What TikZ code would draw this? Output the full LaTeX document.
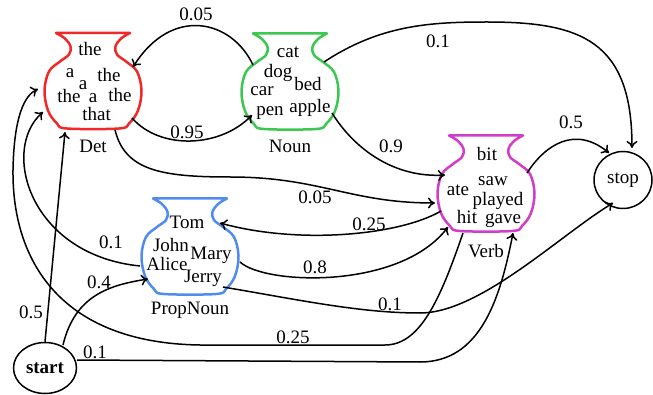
\documentclass[tikz,border=0pt]{standalone}
\usepackage{fontspec}
\setmainfont{Liberation Serif}
\usetikzlibrary{arrows.meta}
\usetikzlibrary{shapes.geometric}
\definecolor{detred}{RGB}{240,40,40}
\definecolor{noungreen}{RGB}{60,200,80}
\definecolor{verbpink}{RGB}{210,60,200}
\definecolor{propblue}{RGB}{80,140,240}
\tikzset{>={To[length=7pt,width=11pt]}}
\tikzstyle{trans}=[->,line width=1.5pt]
\tikzstyle{vaseline}=[line width=2.5pt,line join=round]
\tikzstyle{vasenode}=[minimum width=98pt,minimum height=96pt,inner sep=0pt]
\tikzstyle{word}=[inner sep=0pt,text height=11pt,text depth=0pt]
\tikzstyle{vasename}=[inner sep=0pt,text height=12pt,text depth=0pt]
\tikzstyle{prob}=[inner sep=0pt,text height=12pt,text depth=0pt]
\tikzstyle{state}=[ellipse,draw,line width=1.5pt,inner sep=0pt]
\newcommand\drawvase[2]{
	\draw[vaseline,#2,shift={(#1.center)}] plot[smooth,tension=0.6] coordinates {
		(37,-47.5) (28,-42) (22.5,-34) (24,-26) (33,-19) (44,-9) (48.5,10) (45,30) (36,43) (26,48)
		(-26,48) (-36,43) (-45,30) (-48.5,10) (-44,-9) (-33,-19) (-24,-26) (-22.5,-34) (-28,-42) (-37,-47.5)} -- cycle;
}

\begin{document}
\begin{tikzpicture}[x=1pt,y=-1pt,font=\fontsize{19}{21}\selectfont]
	\useasboundingbox (0,0) rectangle (653,395);
	
	% VASES
	\node[vasenode] (det)  at (93,80.5) {};
	\node[vasenode] (noun) at (290,81) {};
	\node[vasenode] (verb) at (486,183) {};
	\node[vasenode] (prop) at (190,246) {};
	\drawvase{det}{detred}
	\drawvase{noun}{noungreen}
	\drawvase{verb}{verbpink}
	\drawvase{prop}{propblue}
	
	% WORDS
	\foreach \w/\dx/\dy [count=\i] in {the/-3/-30.5,a/-23/-8.5,the/16/-4,a/-10/3.5,the/-24/17,a/0/17,the/27/16,that/3.7/35}
	\node[word] (det\i) at ([shift={(\dx,\dy)}]det.center) {\w};
	\foreach \w/\dx/\dy [count=\i] in {cat/-2/-29,dog/-12/-8.5,bed/18/4,car/-28/9,pen/-20/29,apple/20/26}
	\node[word] (noun\i) at ([shift={(\dx,\dy)}]noun.center) {\w};
	\foreach \w/\dx/\dy [count=\i] in {bit/1/-28,ate/-28/7,saw/7/-2.5,played/12/17,hit/-19/35.5,gave/17/35.5}
	\node[word] (verb\i) at ([shift={(\dx,\dy)}]verb.center) {\w};
	\foreach \w/\dx/\dy [count=\i] in {Tom/-3/-23,John/-19/0,Mary/21/8,Alice/-23/19,Jerry/13/31}
	\node[word] (prop\i) at ([shift={(\dx,\dy)}]prop.center) {\w};
	
	\node[vasename] (detname)  at ([yshift=-66.5pt]det.center)  {Det};
	\node[vasename] (nounname) at ([yshift=-66pt]noun.center)   {Noun};
	\node[vasename] (verbname) at ([yshift=-69pt]verb.center)   {Verb};
	\node[vasename] (propname) at ([yshift=-62pt]prop.center)   {PropNoun};
	
	% STATES
	\node[state,minimum width=63pt,minimum height=51pt] (start) at (45,368) {\textbf{start}};
	\node[state,minimum width=58pt,minimum height=57pt] (stop) at (623,180) {stop};
	
	% TRANSITIONS
	\draw[trans] ([shift={(39,37.5)}]det.center) .. controls (160,150) and (220,148) .. ([shift={(-38,34)}]noun.center);
	\draw[trans] ([shift={(-37,-16)}]noun.center) .. controls (232,20) and (172,5) .. ([shift={(40,-13.5)}]det.center);
	\draw[trans] ([shift={(34,-19)}]noun.center) .. controls (380,25) and (430,22) .. (487,22)
	.. controls (580,22) and (632,40) .. ([shift={(9,-32)}]stop.center);
	\draw[trans] ([shift={(42,32)}]noun.center) .. controls (355,150) and (395,178) .. ([shift={(-41,-8)}]verb.center);
	\draw[trans] ([shift={(22,49.5)}]det.center) .. controls (125,170) and (160,177) .. (230,177)
	.. controls (320,177) and (350,203) .. ([shift={(-51,20)}]verb.center);
	\draw[trans] ([shift={(-45,28)}]verb.center) .. controls (400,235) and (300,245) .. ([shift={(30,-23)}]prop.center);
	\draw[trans] ([shift={(50,16)}]prop.center) .. controls (265,285) and (400,290) .. ([shift={(-38,44)}]verb.center);
	\draw[trans] ([shift={(33,41)}]prop.center) .. controls (300,300) and (360,313) .. (420,313)
	.. controls (480,313) and (560,235) .. ([shift={(-10,23)}]stop.center);
	\draw[trans] ([shift={(-50,20)}]prop.center) .. controls (30,255) and (0,150) .. ([shift={(-50,31.5)}]det.center);
	\draw[trans] ([shift={(-23,50)}]verb.center) .. controls (440,300) and (420,345) .. (385,345) -- (200,345)
	.. controls (60,343) and (12,260) .. (13,170) .. controls (14,115) and (25,95) .. ([shift={(-55,8.5)}]det.center);
	\draw[trans] (start.north) -- ([shift={(-28,51.5)}]det.center);
	\draw[trans] ([shift={(18,-23)}]start.center) .. controls (75,295) and (110,285) .. ([shift={(-42,33)}]prop.center);
	\draw[trans] ([shift={(32,-8)}]start.center) -- (420,362) .. controls (480,362) and (500,300) .. ([shift={(27,50)}]verb.center);
	\draw[trans] ([shift={(41,-10)}]verb.center) .. controls (545,145) and (575,125) .. ([shift={(-14,-27)}]stop.center);
	
	% PROBABILITIES
	\foreach \p/\x/\y [count=\i] in {0.05/196/15,0.95/187/133,0.1/438/42,0.9/391/147,0.5/571/123,0.05/315/198,0.25/369/225,0.8/315/267,0.1/111/243,0.4/99/283,0.5/31/313,0.25/293/337,0.1/95/352,0.1/390/304}
	\node[prob] (prob\i) at (\x,\y) {\p};
	
\end{tikzpicture}
\end{document}
